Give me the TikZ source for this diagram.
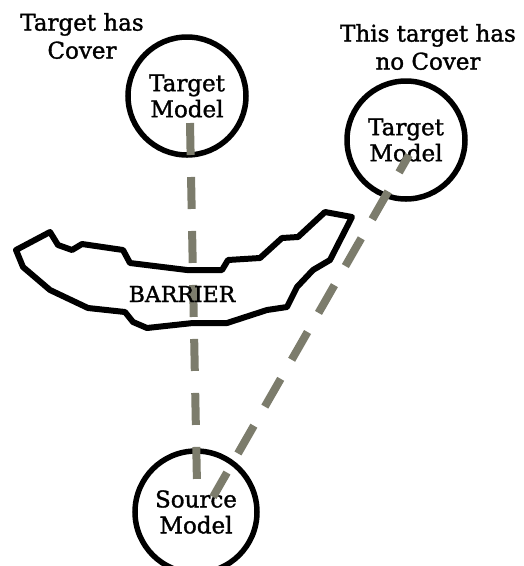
\documentclass[tikz,border=0pt]{standalone}
\usepackage{fontspec}
\setmainfont{DejaVu Serif}[FakeBold=1.4]
\begin{document}
\begin{tikzpicture}[x=1pt,y=-1pt,
  circ/.style={draw=black,line width=5.5pt,circle,minimum size=118pt,inner sep=0pt,align=center,font=\fontsize{23}{26}\selectfont},
  lbl/.style={align=center,font=\fontsize{23}{28}\selectfont,inner sep=0pt},
  sight/.style={draw={rgb,255:red,124;green,124;blue,108},line width=8pt,dash pattern=on 32pt off 22pt}]
\useasboundingbox (0,0) rectangle (524,566);
\node[circ] (t1) at (187,96) {Target\\Model};
\node[circ] (t2) at (406,140) {Target\\Model};
\node[circ,minimum size=122pt] (src) at (196,512) {Source\\Model};
\node[lbl] (l1) at (82,36) {Target has\\Cover};
\node[lbl] (l2) at (428,47) {This target has\\no Cover};
\draw[line width=6pt,line join=round] (16,250) -- (50,232) -- (58,245) -- (72,250) -- (82,244) -- (123,250) -- (130,263) -- (187,270) -- (222,270) -- (228,260) -- (260,258) -- (282,238) -- (298,237) -- (325,212) -- (352,217) -- (330,260) -- (313,270) -- (297,287) -- (287,307) -- (267,310) -- (227,323) -- (193,323) -- (147,328) -- (133,322) -- (125,312) -- (88,308) -- (50,290) -- (23,267) -- cycle;
\coordinate (a1) at (190,123);
\coordinate (a2) at (197,485);
\coordinate (b1) at (409,155);
\coordinate (b2) at (213,497);
\draw[sight] (a1) -- (a2);
\draw[sight,dash phase=12pt] (b1) -- (b2);
\node[inner sep=0pt,font=\fontsize{22}{24}\selectfont] (bar) at (182,294) {BARRIER};
\end{tikzpicture}
\end{document}
